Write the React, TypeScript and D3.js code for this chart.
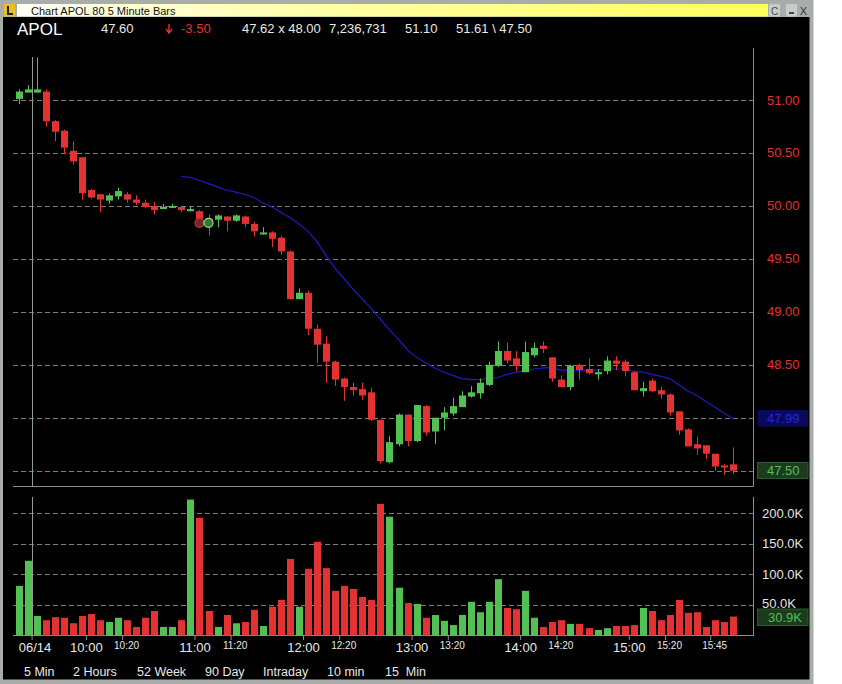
import React from 'react';
import * as d3 from 'd3';

// 5 minute bars, 2 from prior session then 09:30 .. 15:55
const opens = [51.01, 51.07, 51.07, 51.08, 50.80, 50.71, 50.52, 50.46, 50.15, 50.11,
  50.05, 50.09, 50.11, 50.06, 50.03, 50.00, 49.97, 49.99, 49.99, 49.95,
  49.95, 49.88, 49.87, 49.90, 49.86, 49.90, 49.83, 49.73, 49.75, 49.70,
  49.57, 49.12, 49.18, 48.84, 48.70, 48.53, 48.37, 48.29, 48.27, 48.24,
  47.98, 47.58, 47.75, 48.03, 47.78, 48.11, 47.87, 48.00, 48.04, 48.10,
  48.20, 48.23, 48.31, 48.49, 48.63, 48.56, 48.43, 48.59, 48.68, 48.57,
  48.36, 48.29, 48.50, 48.46, 48.41, 48.44, 48.54, 48.53, 48.43, 48.25,
  48.35, 48.26, 48.22, 48.06, 47.89, 47.75, 47.74, 47.66, 47.55, 47.56];
const highs = [51.10, 51.14, 51.40, 51.10, 50.81, 50.72, 50.61, 50.46, 50.16, 50.11,
  50.12, 50.17, 50.13, 50.10, 50.06, 50.04, 50.02, 50.02, 50.00, 49.99,
  49.96, 49.92, 49.92, 49.90, 49.92, 49.91, 49.85, 49.80, 49.76, 49.72,
  49.58, 49.22, 49.20, 48.88, 48.77, 48.54, 48.38, 48.33, 48.33, 48.28,
  47.98, 47.83, 48.04, 48.03, 48.12, 48.12, 48.00, 48.10, 48.19, 48.25,
  48.30, 48.37, 48.53, 48.72, 48.71, 48.63, 48.72, 48.71, 48.72, 48.57,
  48.40, 48.50, 48.51, 48.56, 48.46, 48.58, 48.58, 48.55, 48.44, 48.34,
  48.37, 48.29, 48.23, 48.06, 47.90, 47.82, 47.74, 47.66, 47.56, 47.72];
const lows = [50.96, 51.07, 51.07, 50.75, 50.61, 50.49, 50.39, 50.06, 50.07, 49.94,
  50.02, 50.06, 50.03, 50.01, 49.98, 49.92, 49.97, 49.98, 49.94, 49.95,
  49.85, 49.72, 49.80, 49.76, 49.85, 49.80, 49.71, 49.73, 49.61, 49.54,
  49.12, 49.12, 48.78, 48.52, 48.33, 48.30, 48.16, 48.21, 48.17, 47.97,
  47.57, 47.57, 47.73, 47.73, 47.77, 47.83, 47.75, 47.88, 48.02, 48.10,
  48.19, 48.18, 48.30, 48.48, 48.51, 48.44, 48.43, 48.57, 48.61, 48.34,
  48.29, 48.26, 48.36, 48.41, 48.36, 48.41, 48.45, 48.39, 48.26, 48.20,
  48.24, 48.18, 48.02, 47.84, 47.73, 47.65, 47.61, 47.50, 47.46, 47.47];
const closes = [51.08, 51.10, 51.10, 50.80, 50.70, 50.55, 50.42, 50.12, 50.08, 50.06,
  50.10, 50.14, 50.06, 50.03, 49.99, 49.96, 49.99, 50.00, 49.96, 49.97,
  49.88, 49.83, 49.91, 49.86, 49.91, 49.83, 49.76, 49.75, 49.69, 49.57,
  49.12, 49.18, 48.84, 48.69, 48.53, 48.36, 48.29, 48.26, 48.21, 47.98,
  47.59, 47.77, 48.03, 47.78, 48.12, 47.86, 48.00, 48.05, 48.11, 48.21,
  48.24, 48.33, 48.50, 48.63, 48.54, 48.49, 48.62, 48.66, 48.65, 48.37,
  48.29, 48.49, 48.45, 48.42, 48.43, 48.54, 48.51, 48.44, 48.26, 48.28,
  48.25, 48.22, 48.05, 47.88, 47.73, 47.71, 47.66, 47.54, 47.53, 47.50];
const volumes = [81, 122, 32, 25, 30, 29, 20, 32, 35, 25,
  22, 29, 25, 14, 29, 40, 14, 14, 25, 222,
  192, 40, 14, 33.5, 20, 22, 42, 15.5, 47, 58,
  125, 47, 109, 153, 110, 73, 81, 76, 63, 58,
  215, 194, 78, 53, 51.5, 29, 33.5, 24, 17, 33.5,
  55, 38, 55, 92, 45, 43, 73, 29, 14, 22,
  25, 19, 19, 12, 9, 12, 15.5, 15.5, 17, 45,
  40, 25, 33.5, 58, 37, 38, 14, 25, 22, 30.9].map(v => v * 1000);

// moving average, starts at bar index 18
const maStart = 18;
const maValues = [50.28, 50.27, 50.24, 50.21, 50.18, 50.15, 50.13, 50.11, 50.08, 50.03,
  49.99, 49.94, 49.89, 49.83, 49.76, 49.66, 49.53, 49.41, 49.31, 49.21,
  49.12, 49.03, 48.93, 48.83, 48.74, 48.64, 48.57, 48.52, 48.47, 48.43,
  48.40, 48.37, 48.36, 48.36, 48.37, 48.38, 48.41, 48.43, 48.44, 48.46,
  48.47, 48.47, 48.45, 48.45, 48.44, 48.45, 48.45, 48.46, 48.46, 48.46,
  48.44, 48.43, 48.41, 48.39, 48.37, 48.31, 48.25, 48.21, 48.15, 48.10,
  48.04, 47.99];

// trade markers
const markerBars = [20, 21];
const markerPrices = [49.84, 49.84];
const markerSides = ['sell', 'buy'];

const tickLabels = ['06/14', '10:00', '10:20', '11:00', '11:20', '12:00', '12:20', '13:00', '13:20', '14:00', '14:20', '15:00', '15:20', '15:45'];
const tickBars = [2, 8, 12, 20, 24, 32, 36, 44, 48, 56, 60, 68, 72, 77];
const tickMajor = [true, true, false, true, false, true, false, true, false, true, false, true, false, false];

const priceTicks = [47.5, 48, 48.5, 49, 49.5, 50, 50.5, 51];
const volumeTicks = [50000, 100000, 150000, 200000];

const buttons = ['5 Min', '2 Hours', '52 Week', '90 Day', 'Intraday', '10 min', '15  Min'];
const buttonX = [24, 73, 137, 205, 263, 327, 385];

const FONT = '"Liberation Sans", Arial, sans-serif';
const GREEN = '#52c152';
const RED = '#e23232';
const GRID = '#7c7c7c';
const AXIS = '#8c8c8c';

const App: React.FC = () => {
  const W = 842, H = 684;
  const left = 13, right = 753.5;

  const x = d3.scaleLinear().domain([0, 79]).range([18.5, 733.3]);
  const yP = d3.scaleLinear().domain([47.5, 51]).range([470.7, 100]);
  const yV = d3.scaleLinear().domain([0, 200000]).range([635.5, 513]);
  const step = x(1) - x(0);
  const bw = 7;

  const maLine = d3.line<number>()
    .x((_, i) => x(i + maStart))
    .y(d => yP(d));

  const sepX = Math.round(x(tickBars[0]) - step / 2) + 0.5;
  const last = closes.length - 1;

  return (
    <svg width={W} height={H} style={{ position: 'absolute', left: 0, top: 0, background: '#fff' }}
      fontFamily={FONT}>
      <defs>
        <linearGradient id="titleGrad" x1="0" x2="1" y1="0" y2="0">
          <stop offset="0" stopColor="#fffff4" />
          <stop offset="0.35" stopColor="#ffffb0" />
          <stop offset="1" stopColor="#ffff5a" />
        </linearGradient>
      </defs>

      {/* window frame */}
      <rect x={0} y={0} width={813.5} height={H} fill="#a9ada9" />
      <rect x={3} y={17} width={806.5} height={662.5} fill="#000" />
      <rect x={17} y={4} width={751} height={12.5} fill="url(#titleGrad)" />
      <rect x={4} y={4} width={11} height={12.5} fill="#e8c020" />
      <path d="M7,6 L9,6 L9,13 L13,13 L13,15 L7,15 Z" fill="#222" />
      <text x={31} y={14.5} fontSize={11} fill="#111">Chart APOL 80 5 Minute Bars</text>
      <rect x={769} y={4} width={11} height={12.5} fill="#c8ccc8" />
      <text x={774.5} y={14.5} fontSize={10} textAnchor="middle" fill="#444">C</text>
      <rect x={786} y={4} width={11} height={12.5} fill="#c8ccc8" />
      <rect x={789} y={12} width={5} height={2} fill="#444" />
      <text x={803.5} y={14.5} fontSize={11} textAnchor="middle" fill="#333">X</text>

      {/* header quote line */}
      <text x={17} y={35} fontSize={17} fill="#fff">APOL</text>
      <text x={101} y={33} fontSize={13} fill="#e8e8e8">47.60</text>
      <path d="M169,24 L169,32 M166,29 L169,33 L172,29" stroke={RED} strokeWidth={1.4} fill="none" />
      <text x={181} y={33} fontSize={13} fill={RED}>-3.50</text>
      <text x={242} y={33} fontSize={13} fill="#e8e8e8">47.62 x 48.00</text>
      <text x={329} y={33} fontSize={13} fill="#e8e8e8">7,236,731</text>
      <text x={405} y={33} fontSize={13} fill="#e8e8e8">51.10</text>
      <text x={456} y={33} fontSize={13} fill="#e8e8e8">51.61 \ 47.50</text>

      {/* price panel grid */}
      {priceTicks.map(p => (
        <g key={'pg' + p}>
          <line x1={left} x2={right} y1={Math.round(yP(p)) + 0.5} y2={Math.round(yP(p)) + 0.5}
            stroke={GRID} strokeDasharray="5,3" />
          {p !== 47.5 && (
            <text x={767} y={yP(p)} fontSize={13} fill={RED} dominantBaseline="central">{p.toFixed(2)}</text>
          )}
        </g>
      ))}
      <line x1={right} x2={right} y1={48} y2={486.5} stroke={AXIS} />
      <line x1={left} x2={right} y1={486.5} y2={486.5} stroke={AXIS} />

      {/* volume panel grid */}
      {volumeTicks.map(v => (
        <g key={'vg' + v}>
          <line x1={left} x2={right} y1={Math.round(yV(v)) + 0.5} y2={Math.round(yV(v)) + 0.5}
            stroke={GRID} strokeDasharray="5,3" />
          <text x={762} y={v === 50000 ? yV(v) - 1 : yV(v)} fontSize={13} fill="#e4e4e4" dominantBaseline="central">
            {(v / 1000).toFixed(1)}K
          </text>
        </g>
      ))}
      <line x1={right} x2={right} y1={497} y2={636} stroke={AXIS} />
      <line x1={left} x2={right} y1={635.5} y2={635.5} stroke={AXIS} />

      {/* session separator */}
      <line x1={sepX} x2={sepX} y1={57} y2={486} stroke="#8e9e8e" />
      <line x1={sepX} x2={sepX} y1={497} y2={636} stroke="#8e9e8e" />

      {/* moving average */}
      <path d={maLine(maValues) || ''} fill="none" stroke="#1c1cc4" strokeWidth={1.2} />

      {/* candles */}
      {opens.map((o, i) => {
        const c = closes[i];
        const col = c >= o ? GREEN : RED;
        const top = yP(Math.max(o, c));
        const h = Math.max(2, Math.abs(yP(o) - yP(c)));
        const cx = Math.round(x(i)) + 0.5;
        return (
          <g key={'c' + i}>
            <line x1={cx} x2={cx} y1={yP(highs[i])} y2={yP(lows[i])} stroke={col} />
            <rect x={cx - 3.5} y={top} width={bw} height={h} fill={col} />
          </g>
        );
      })}

      {/* trade markers */}
      {markerBars.map((b, i) => (
        <circle key={'m' + i} cx={x(b)} cy={yP(markerPrices[i])} r={4.5}
          fill={markerSides[i] === 'sell' ? '#7a2424' : '#2f7a2f'}
          stroke={markerSides[i] === 'sell' ? '#b84040' : '#8ee08e'} strokeWidth={1.2} />
      ))}

      {/* volume bars */}
      {volumes.map((v, i) => (
        <rect key={'v' + i} x={Math.round(x(i)) - 3} y={yV(v)} width={bw} height={yV(0) - yV(v)}
          fill={closes[i] >= opens[i] ? GREEN : RED} />
      ))}

      {/* last value boxes */}
      <rect x={757.5} y={410} width={50.5} height={16.5} fill="#0a0a5c" />
      <text x={767} y={418.5} fontSize={13} fill="#2626d8" dominantBaseline="central">
        {maValues[maValues.length - 1].toFixed(2)}
      </text>
      <rect x={757.5} y={462.5} width={50.5} height={16} fill="#1c3a1c" stroke="#2f5a2f" />
      <text x={767} y={470.5} fontSize={13} fill={GREEN} dominantBaseline="central">
        {closes[last].toFixed(2)}
      </text>
      <rect x={757.5} y={609} width={50.5} height={16.5} fill="#1c3a1c" stroke="#2f5a2f" />
      <text x={768} y={617.5} fontSize={13} fill={GREEN} dominantBaseline="central">
        {(volumes[last] / 1000).toFixed(1)}K
      </text>

      {/* time axis */}
      {tickBars.map((b, i) => {
        const tx = x(b) - step / 2;
        return (
          <g key={'t' + i}>
            <line x1={tx} x2={tx} y1={636} y2={640} stroke={AXIS} />
            {tickMajor[i] ? (
              <text x={i === 0 ? tx + 3 : tx} y={651.5} fontSize={13} fill="#e8e8e8" textAnchor="middle">
                {tickLabels[i]}
              </text>
            ) : (
              <text x={tx + 4} y={648.5} fontSize={10} fill="#e8e8e8" textAnchor="middle">
                {tickLabels[i]}
              </text>
            )}
          </g>
        );
      })}

      {/* period buttons */}
      {buttons.map((b, i) => (
        <text key={'b' + i} x={buttonX[i]} y={676} fontSize={12.5} fill="#e8e8e8" style={{ whiteSpace: 'pre' }}>
          {b}
        </text>
      ))}
    </svg>
  );
};

export default App;
